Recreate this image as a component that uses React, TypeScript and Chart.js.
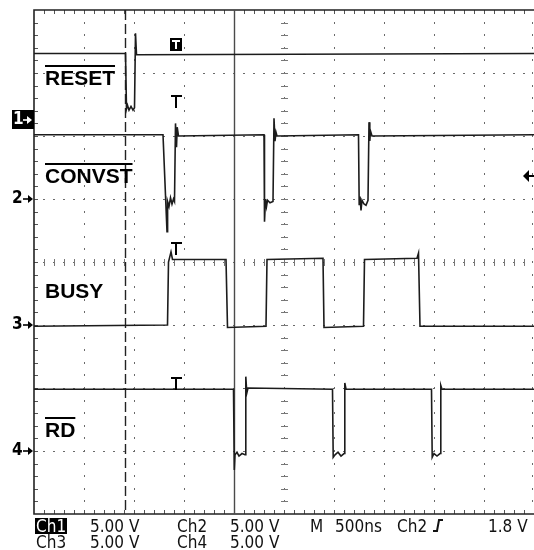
import { useEffect, useRef } from 'react';
import { Chart, registerables } from 'chart.js';

Chart.register(...registerables);

// ---------- scope settings ----------
const timeMinNs = 0;
const timeMaxNs = 5000;
const nsPerDiv = 500;
const voltsPerDiv = 5;
const verticalDivs = 8;

// ---------- channels ----------
const channelLabels = ['RESET', 'CONVST', 'BUSY', 'RD'];
const channelOverline = [true, true, false, true];
const channelGroundDiv = [6.25, 5.0, 3.0, 1.0];

// CH1  RESET
const resetTimeNs = [0, 915, 925, 935, 950, 970, 990, 1005, 1015, 1025, 5000];
const resetVolts = [5.3, 5.3, 0.9, 1.2, 0.8, 1.1, 0.8, 1.0, 6.9, 5.2, 5.3];

// CH2  CONVST
const convstTimeNs = [
  0, 1290, 1330, 1336, 1350, 1365, 1380, 1395, 1405, 1415, 1425, 1432, 1445,
  2300, 2305, 2315, 2325, 2335, 2360, 2390, 2400, 2410, 2420, 2430,
  3245, 3252, 3260, 3270, 3280, 3300, 3320, 3340, 3350, 3358, 3365, 3380, 5000,
];
const convstVolts = [
  5.1, 5.1, -2.6, -0.2, -0.6, 0.1, -0.4, 0.0, -0.2, 6.0, 4.1, 5.7, 5.0,
  5.1, -1.8, 0.0, -0.6, -0.1, -0.3, -0.2, 6.4, 4.6, 5.3, 5.0,
  5.1, -0.5, 0.2, -0.9, -0.1, -0.4, -0.5, -0.1, 6.1, 4.6, 5.4, 5.0, 5.1,
];

// CH3  BUSY
const busyTimeNs = [0, 1335, 1345, 1370, 1385, 1920, 1935, 2320, 2330, 2890, 2900, 3295, 3305, 3830, 3845, 3860, 5000];
const busyVolts = [-0.1, 0.0, 5.0, 5.8, 5.2, 5.2, -0.2, -0.1, 5.2, 5.3, -0.2, -0.1, 5.2, 5.3, 5.7, -0.1, -0.1];

// CH4  RD
const rdTimeNs = [
  0, 1995, 2003, 2010, 2030, 2050, 2080, 2110, 2118, 2128, 2140,
  2985, 2992, 3010, 3040, 3070, 3100, 3108, 3120,
  3975, 3982, 4000, 4030, 4060, 4068, 4080, 5000,
];
const rdVolts = [
  4.9, 4.9, -1.5, -0.3, -0.1, -0.4, -0.2, -0.3, 5.9, 4.6, 5.0,
  4.9, -0.5, -0.3, -0.1, -0.4, -0.2, 5.4, 4.9,
  4.9, -0.5, -0.2, -0.4, -0.2, 5.2, 4.9, 4.9,
];

const channelTimes = [resetTimeNs, convstTimeNs, busyTimeNs, rdTimeNs];
const channelVolts = [resetVolts, convstVolts, busyVolts, rdVolts];

// ---------- trigger / cursors ----------
const cursorTimesNs = [910, 2000];
const triggerTimeNs = 1420;
const triggerChannelIndex = 1;
const triggerLevelVolts = 1.8;

// ---------- readout ----------
const readoutRow1 = ['Ch1', '5.00 V', 'Ch2', '5.00 V', 'M', '500ns', 'Ch2', '1.8 V'];
const readoutRow2 = ['Ch3', '5.00 V', 'Ch4', '5.00 V'];

// ---------- layout (positions only) ----------
const labelTimeNs = 110;
const labelBaselineDiv = [6.81, 5.25, 3.43, 1.22];
const tMarkTopDiv = [7.46, 6.65, 4.32, 2.17];
const readoutRow1X = [36, 90, 177, 230, 310, 335, 397, 488];
const readoutRow2X = [36, 90, 177, 230];
const slopeX = 433;

const TRACE = '#1c1c1c';

function drawArrowRight(ctx: CanvasRenderingContext2D, x0: number, x1: number, y: number, color: string) {
  ctx.strokeStyle = color;
  ctx.fillStyle = color;
  ctx.lineWidth = 1.6;
  ctx.beginPath();
  ctx.moveTo(x0, y);
  ctx.lineTo(x1 - 4, y);
  ctx.stroke();
  ctx.beginPath();
  ctx.moveTo(x1, y);
  ctx.lineTo(x1 - 5, y - 4);
  ctx.lineTo(x1 - 5, y + 4);
  ctx.closePath();
  ctx.fill();
}

const scopePlugin = {
  id: 'scope',
  beforeDatasetsDraw(chart: any) {
    const { ctx, chartArea: a, scales } = chart;
    const xs = scales.x;
    const ys = scales.y;
    const hDivs = (timeMaxNs - timeMinNs) / nsPerDiv;
    ctx.save();
    ctx.fillStyle = '#6a6a6a';
    // vertical dotted grid (incl. right edge)
    for (let d = 1; d <= hDivs; d++) {
      let px = Math.round(xs.getPixelForValue(timeMinNs + d * nsPerDiv));
      if (d === hDivs) px -= 2;
      for (let m = 1; m < verticalDivs * 5; m++) {
        const py = Math.round(ys.getPixelForValue(m / 5));
        ctx.fillRect(px, py - 1, 1, 2);
      }
    }
    // horizontal dotted grid
    for (let j = 1; j < verticalDivs; j++) {
      const py = Math.round(ys.getPixelForValue(j));
      for (let m = 1; m < hDivs * 5; m++) {
        const px = Math.round(xs.getPixelForValue(timeMinNs + (m * nsPerDiv) / 5));
        ctx.fillRect(px - 1, py, 2, 1);
      }
    }
    // centre cross ticks
    ctx.fillStyle = '#777';
    const cx = Math.round(xs.getPixelForValue((timeMinNs + timeMaxNs) / 2));
    const cy = Math.round(ys.getPixelForValue(verticalDivs / 2));
    for (let m = 1; m < verticalDivs * 5; m++) {
      const py = Math.round(ys.getPixelForValue(m / 5));
      ctx.fillRect(cx - 3, py, 7, 1);
    }
    for (let m = 1; m < hDivs * 5; m++) {
      const px = Math.round(xs.getPixelForValue(timeMinNs + (m * nsPerDiv) / 5));
      ctx.fillRect(px, cy - 3, 1, 7);
    }
    // border ticks
    ctx.fillStyle = '#555';
    for (let m = 1; m < hDivs * 5; m++) {
      const px = Math.round(xs.getPixelForValue(timeMinNs + (m * nsPerDiv) / 5));
      ctx.fillRect(px, a.top, 1, 4);
      ctx.fillRect(px, a.bottom - 4, 1, 4);
    }
    for (let m = 1; m < verticalDivs * 5; m++) {
      const py = Math.round(ys.getPixelForValue(m / 5));
      ctx.fillRect(a.left, py, 4, 1);
    }
    // border
    ctx.strokeStyle = '#222';
    ctx.lineWidth = 1.6;
    ctx.beginPath();
    ctx.moveTo(a.right, a.top);
    ctx.lineTo(a.left, a.top);
    ctx.lineTo(a.left, a.bottom);
    ctx.lineTo(a.right, a.bottom);
    ctx.stroke();
    // cursors
    const c0 = Math.round(xs.getPixelForValue(cursorTimesNs[0])) + 0.5;
    ctx.strokeStyle = '#222';
    ctx.lineWidth = 1.4;
    ctx.setLineDash([10, 4]);
    ctx.beginPath();
    ctx.moveTo(c0, a.top);
    ctx.lineTo(c0, a.bottom);
    ctx.stroke();
    ctx.setLineDash([]);
    const c1 = Math.round(xs.getPixelForValue(cursorTimesNs[1])) + 0.5;
    ctx.strokeStyle = '#4a4a4a';
    ctx.lineWidth = 1.4;
    ctx.beginPath();
    ctx.moveTo(c1, a.top);
    ctx.lineTo(c1, a.bottom);
    ctx.stroke();
    ctx.restore();
  },
  afterDatasetsDraw(chart: any) {
    const { ctx, chartArea: a, scales } = chart;
    const xs = scales.x;
    const ys = scales.y;
    ctx.save();
    // channel labels
    ctx.fillStyle = '#000';
    ctx.font = 'bold 21px "Liberation Sans", Arial, sans-serif';
    ctx.textBaseline = 'alphabetic';
    const lx = xs.getPixelForValue(labelTimeNs);
    channelLabels.forEach((t, i) => {
      const by = ys.getPixelForValue(labelBaselineDiv[i]);
      ctx.fillText(t, lx, by);
      if (channelOverline[i]) {
        const w = ctx.measureText(t).width;
        ctx.fillRect(lx, Math.round(by - 20), w, 2);
      }
    });
    // trigger position marks
    const tx = Math.round(xs.getPixelForValue(triggerTimeNs));
    tMarkTopDiv.forEach((d, i) => {
      const ty = Math.round(ys.getPixelForValue(d));
      if (i === 0) {
        ctx.fillStyle = '#000';
        ctx.fillRect(tx - 6, ty - 6, 12, 13);
        ctx.fillStyle = '#fff';
        ctx.fillRect(tx - 4, ty - 4, 8, 2);
        ctx.fillRect(tx - 1, ty - 4, 2, 9);
      } else {
        ctx.fillStyle = '#000';
        ctx.fillRect(tx - 5, ty, 11, 2);
        ctx.fillRect(tx - 1, ty, 2, 13);
      }
    });
    // ground markers
    ctx.font = 'bold 17px "DejaVu Sans Condensed", "DejaVu Sans", sans-serif';
    ctx.textBaseline = 'middle';
    channelGroundDiv.forEach((g, i) => {
      const gy = Math.round(ys.getPixelForValue(g));
      if (i === 0) {
        ctx.fillStyle = '#000';
        ctx.fillRect(12, gy - 10, 22, 19);
        ctx.fillStyle = '#fff';
        ctx.fillText(String(i + 1), 13, gy);
        drawArrowRight(ctx, 23, 32, gy, '#fff');
      } else {
        ctx.fillStyle = '#000';
        ctx.fillText(String(i + 1), 12, gy);
        drawArrowRight(ctx, 23, 33, gy, '#000');
      }
    });
    // trigger level arrow
    const ly = Math.round(
      ys.getPixelForValue(channelGroundDiv[triggerChannelIndex] + triggerLevelVolts / voltsPerDiv)
    );
    ctx.fillStyle = '#000';
    ctx.beginPath();
    ctx.moveTo(a.right - 11, ly);
    ctx.lineTo(a.right - 5, ly - 6);
    ctx.lineTo(a.right - 5, ly + 6);
    ctx.closePath();
    ctx.fill();
    ctx.fillRect(a.right - 6, ly - 1, 6, 2);
    ctx.restore();
  },
  afterDraw(chart: any) {
    const { ctx } = chart;
    ctx.save();
    ctx.font = '17px "DejaVu Sans Condensed", "DejaVu Sans", sans-serif';
    ctx.textBaseline = 'alphabetic';
    const b1 = 532;
    const b2 = 548;
    readoutRow1.forEach((t, i) => {
      const x = readoutRow1X[i];
      if (i === 0) {
        ctx.fillStyle = '#000';
        ctx.fillRect(35, 518, 32, 16);
        ctx.fillStyle = '#fff';
        ctx.fillText(t, x, b1);
      } else {
        ctx.fillStyle = '#111';
        ctx.fillText(t, x, b1);
      }
    });
    readoutRow2.forEach((t, i) => {
      ctx.fillStyle = '#111';
      ctx.fillText(t, readoutRow2X[i], b2);
    });
    // rising slope symbol
    ctx.strokeStyle = '#111';
    ctx.lineWidth = 2;
    ctx.beginPath();
    ctx.moveTo(slopeX, b1 - 1);
    ctx.lineTo(slopeX + 4, b1 - 1);
    ctx.lineTo(slopeX + 6, b1 - 12);
    ctx.lineTo(slopeX + 10, b1 - 12);
    ctx.stroke();
    ctx.restore();
  },
};

export default function App() {
  const ref = useRef<HTMLCanvasElement>(null);
  useEffect(() => {
    if (!ref.current) return;
    const datasets = channelTimes.map((times, ci) => ({
      label: channelLabels[ci],
      data: times.map((t, i) => ({ x: t, y: channelGroundDiv[ci] + channelVolts[ci][i] / voltsPerDiv })),
      borderColor: TRACE,
      borderWidth: 1.6,
      pointRadius: 0,
      tension: 0,
      fill: false,
    }));
    const chart = new Chart(ref.current, {
      type: 'line',
      data: { datasets },
      options: {
        responsive: false,
        animation: false,
        events: [],
        layout: { padding: { left: 34, right: 0, top: 10, bottom: 36 } },
        plugins: { legend: { display: false }, tooltip: { enabled: false } },
        scales: {
          x: { type: 'linear', display: false, min: timeMinNs, max: timeMaxNs },
          y: { type: 'linear', display: false, min: 0, max: verticalDivs },
        },
      },
      plugins: [scopePlugin],
    });
    return () => chart.destroy();
  }, []);
  return (
    <div style={{ position: 'absolute', left: 0, top: 0, width: 534, height: 550, background: '#fff' }}>
      <canvas ref={ref} width={534} height={550} style={{ display: 'block' }} />
    </div>
  );
}
